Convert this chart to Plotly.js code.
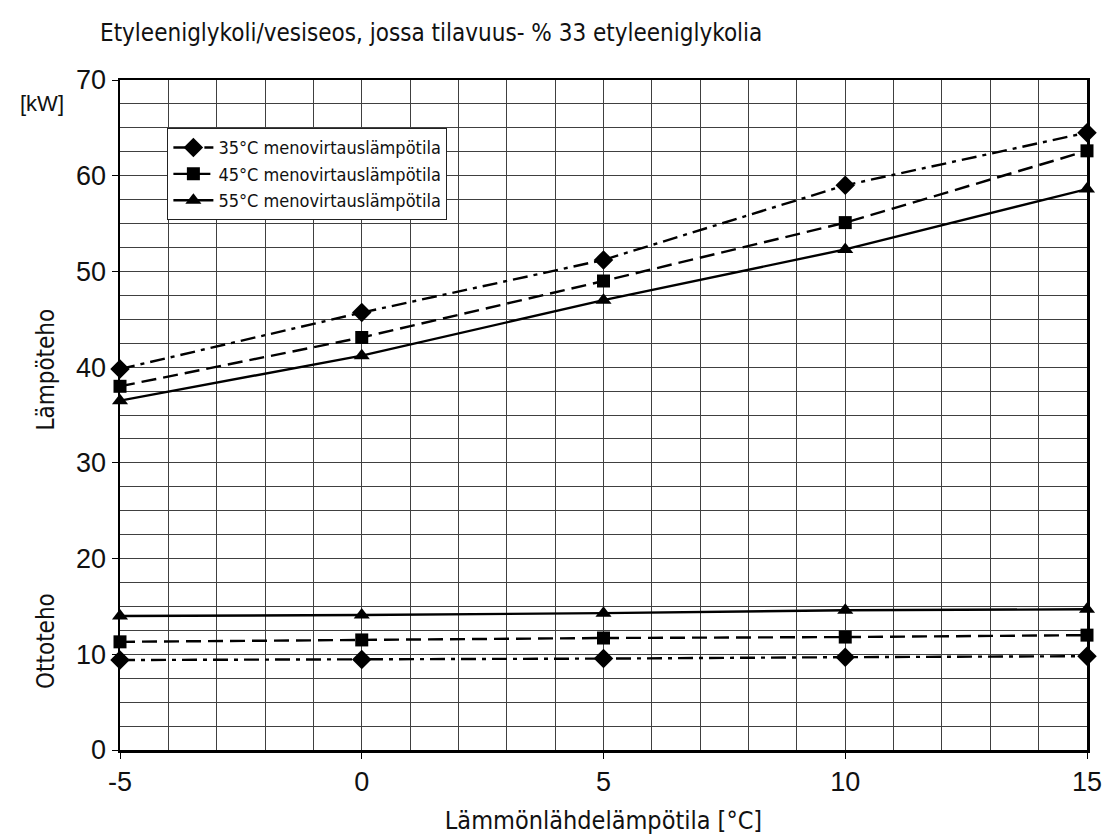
<!DOCTYPE html>
<html>
<head>
<meta charset="utf-8">
<script src="https://cdn.plot.ly/plotly-3.0.1.min.js"></script>
<style>html,body{margin:0;padding:0;background:#fff;}#chart{width:1111px;height:840px;}</style>
</head>
<body>
<div id="chart"></div>
<script>
const sourceTemp = [-5, 0, 5, 10, 15];
const heat35 = [39.8, 45.7, 51.2, 59.0, 64.5];
const heat45 = [38.0, 43.1, 49.0, 55.1, 62.6];
const heat55 = [36.5, 41.2, 47.0, 52.3, 58.6];
const input35 = [9.4, 9.45, 9.55, 9.7, 9.8];
const input45 = [11.3, 11.5, 11.7, 11.8, 12.0];
const input55 = [14.0, 14.1, 14.3, 14.6, 14.7];
const seriesNames = ['35°C menovirtauslämpötila', '45°C menovirtauslämpötila', '55°C menovirtauslämpötila'];
const xTicks = [-5, 0, 5, 10, 15];
const yTicks = [0, 10, 20, 30, 40, 50, 60, 70];

const condensed = '"DejaVu Sans Condensed", "Liberation Sans Narrow", "Open Sans", sans-serif';
const tickFamily = 'Arimo, "Liberation Sans", Arial, sans-serif';
const styles = [
  {dash: '15px,6px,4px,6px', symbol: 'diamond', size: 15},
  {dash: '15px,7px', symbol: 'square', size: 13},
  {dash: 'solid', symbol: 'triangle-up', size: 14}
];
const heatData = [heat35, heat45, heat55];
const inputData = [input35, input45, input55];
const traces = [];
heatData.forEach((ys, i) => {
  traces.push({
    x: sourceTemp, y: ys, name: seriesNames[i], type: 'scatter', mode: 'lines+markers',
    line: {color: '#000', width: 2.4, dash: styles[i].dash},
    marker: {color: '#000', symbol: styles[i].symbol, size: styles[i].size},
    showlegend: true, cliponaxis: false
  });
});
inputData.forEach((ys, i) => {
  traces.push({
    x: sourceTemp, y: ys, name: seriesNames[i], type: 'scatter', mode: 'lines+markers',
    line: {color: '#000', width: 2.4, dash: styles[i].dash},
    marker: {color: '#000', symbol: styles[i].symbol, size: styles[i].size},
    showlegend: false, cliponaxis: false
  });
});

const layout = {
  width: 1111, height: 840,
  margin: {l: 120, r: 24, t: 80, b: 90},
  paper_bgcolor: '#fff', plot_bgcolor: '#fff',
  title: {text: 'Etyleeniglykoli/vesiseos, jossa tilavuus- % 33 etyleeniglykolia',
          font: {family: condensed, size: 24, color: '#111'},
          xref: 'container', yref: 'container', x: 0.09, xanchor: 'left', y: 0.961, yanchor: 'middle'},
  xaxis: {
    range: [-5, 15], tickvals: xTicks, ticktext: xTicks.map(String),
    showgrid: true, gridcolor: '#404040', gridwidth: 1,
    minor: {dtick: 1, showgrid: true, gridcolor: '#404040', gridwidth: 1},
    showline: true, linecolor: '#000', linewidth: 2.5, mirror: true,
    ticks: 'outside', ticklen: 6, tickcolor: '#000',
    zeroline: false,
    tickfont: {family: tickFamily, size: 27, color: '#111'},
    title: {text: 'Lämmönlähdelämpötila [°C]', font: {family: condensed, size: 25, color: '#111'}, standoff: 16}
  },
  yaxis: {
    range: [0, 70], tickvals: yTicks,
    showgrid: true, gridcolor: '#404040', gridwidth: 1,
    minor: {dtick: 2.5, showgrid: true, gridcolor: '#404040', gridwidth: 1},
    showline: true, linecolor: '#000', linewidth: 2.5, mirror: true,
    ticks: 'outside', ticklen: 6, tickcolor: '#000',
    zeroline: false,
    tickfont: {family: tickFamily, size: 27, color: '#111'}
  },
  legend: {
    x: 0.049, y: 0.928, xanchor: 'left', yanchor: 'top',
    bgcolor: '#fff', bordercolor: '#222', borderwidth: 1,
    font: {family: condensed, size: 18, color: '#111'},
    tracegroupgap: 0, itemwidth: 40
  },
  annotations: [
    {text: '[kW]', xref: 'paper', yref: 'paper', x: -0.105, y: 0.965, xanchor: 'left', yanchor: 'middle', showarrow: false,
     font: {family: tickFamily, size: 22, color: '#111'}},
    {text: 'Lämpöteho', xref: 'paper', yref: 'paper', x: -0.076, y: 0.567, xanchor: 'center', yanchor: 'middle', textangle: -90, showarrow: false,
     font: {family: condensed, size: 24, color: '#111'}},
    {text: 'Ottoteho', xref: 'paper', yref: 'paper', x: -0.076, y: 0.162, xanchor: 'center', yanchor: 'middle', textangle: -90, showarrow: false,
     font: {family: condensed, size: 24, color: '#111'}}
  ]
};
Plotly.newPlot('chart', traces, layout, {displayModeBar: false, staticPlot: true});
</script>
</body>
</html>
